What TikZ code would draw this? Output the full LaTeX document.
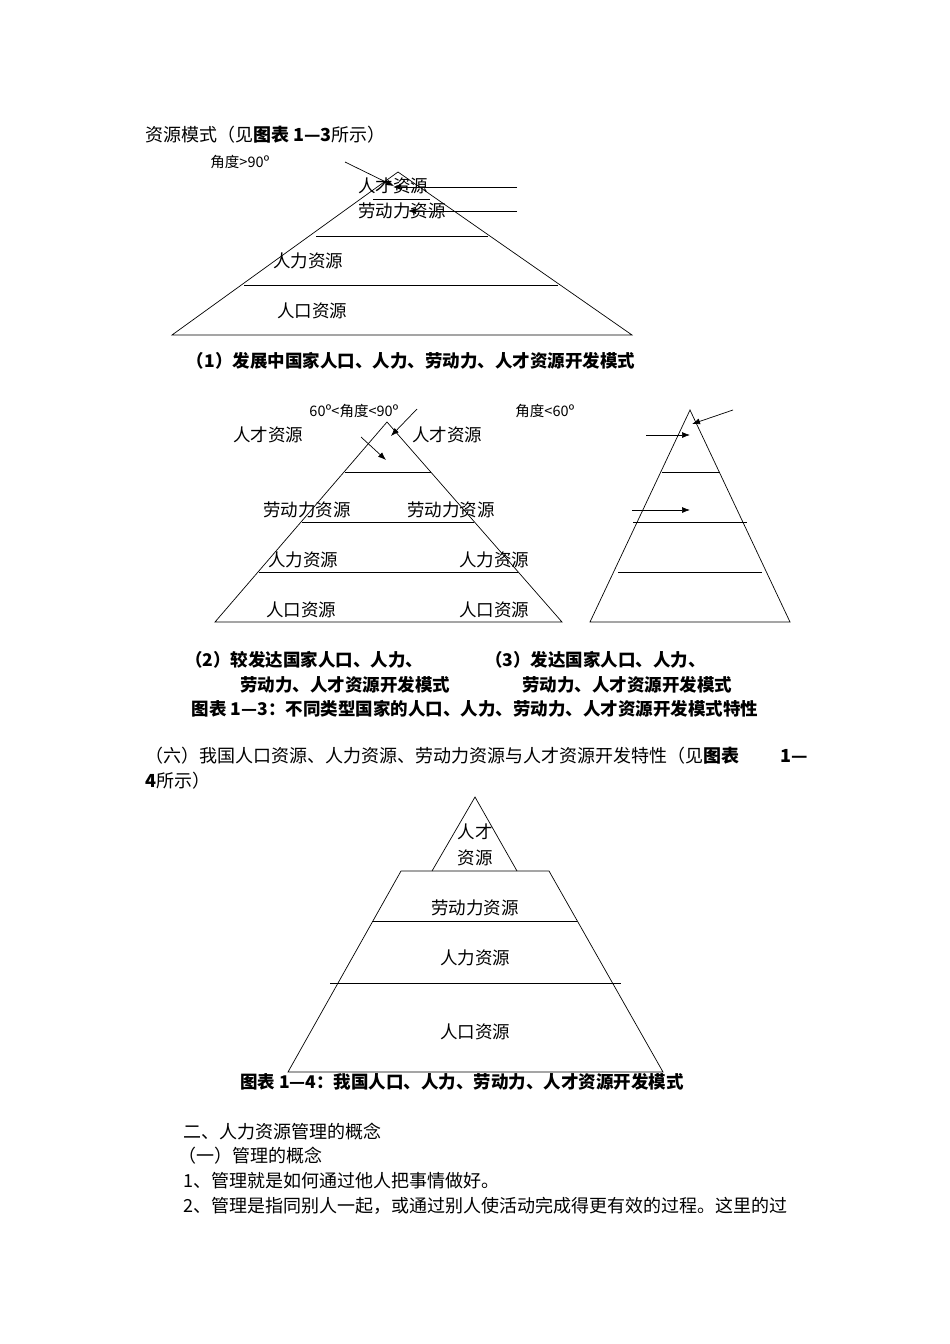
\documentclass[tikz,border=0pt]{standalone}
\usepackage{fontspec}
\setmainfont{Noto Sans CJK SC}
\usetikzlibrary{arrows.meta}
\begin{document}
\begin{tikzpicture}[x=1pt,y=-1pt,
  lbl/.style={inner sep=0pt,font=\fontsize{17.5}{19}\selectfont},
  sml/.style={inner sep=0pt,font=\fontsize{14.5}{16}\selectfont},
  captxt/.style={inner sep=0pt,font=\fontsize{17.5}{19}\selectfont\bfseries},
  body/.style={inner sep=0pt,anchor=west,font=\fontsize{18}{25}\selectfont},
  ln/.style={line width=0.7pt},
  arr/.style={line width=0.7pt}]
\useasboundingbox (0,0) rectangle (950,1344);
% heading
\node[body] (h1) at (145,135) {资源模式（见\textbf{图表 1—3}所示）};
% pyramid 1
\draw[ln] (172,335) -- (398,172) -- (632,335) -- cycle;
\draw[ln] (316,236) -- (488,236);
\draw[ln] (244,285) -- (558,285);
\draw[ln] (373,199) -- (430,199);
\node[sml] (a1) at (240,162) {角度>90º};
\node[lbl] (p1a) at (393,186) {人才资源};
\node[lbl] (p1b) at (402,211) {劳动力资源};
\node[lbl] (p1c) at (308,261) {人力资源};
\node[lbl] (p1d) at (312,311) {人口资源};
\coordinate (s1) at (345,162); \coordinate (t1) at (394,186);
\coordinate (s2) at (517,187); \coordinate (t2) at (393,187);
\coordinate (s3) at (517,211); \coordinate (t3) at (408,211);
\draw[arr,-{Latex[length=8pt,width=6pt]}] (s1) -- (t1);
\draw[arr,-{Latex[length=8pt,width=6pt]}] (s2) -- (t2);
\draw[arr,-{Latex[length=8pt,width=6pt]}] (s3) -- (t3);
\node[captxt] (c1) at (411,361) {（1）发展中国家人口、人力、劳动力、人才资源开发模式};
% pyramid 2
\draw[ln] (215,622) -- (387,422) -- (562,622) -- cycle;
\draw[ln] (345,472) -- (431,472);
\draw[ln] (302,522) -- (474,522);
\draw[ln] (259,572) -- (518,572);
\node[sml] (a2) at (354,411) {60º<角度<90º};
\node[sml] (a3) at (545,411) {角度<60º};
\node[lbl] at (268,435) {人才资源};
\node[lbl] at (447,435) {人才资源};
\node[lbl] at (307,510) {劳动力资源};
\node[lbl] at (451,510) {劳动力资源};
\node[lbl] at (303,560) {人力资源};
\node[lbl] at (494,560) {人力资源};
\node[lbl] at (301,610) {人口资源};
\node[lbl] at (494,610) {人口资源};
\coordinate (s4) at (417,409); \coordinate (t4) at (391,436);
\coordinate (s5) at (361,437); \coordinate (t5) at (386,460);
\draw[arr,-{Latex[length=8pt,width=6pt]}] (s4) -- (t4);
\draw[arr,-{Latex[length=8pt,width=6pt]}] (s5) -- (t5);
% pyramid 3
\draw[ln] (590,622) -- (690,410) -- (790,622) -- cycle;
\draw[ln] (662,472) -- (720,472);
\draw[ln] (633,522) -- (747,522);
\draw[ln] (618,572) -- (762,572);
\coordinate (s6) at (733,410); \coordinate (t6) at (692,424);
\coordinate (s7) at (646,435); \coordinate (t7) at (690,435);
\coordinate (s8) at (632,510); \coordinate (t8) at (690,510);
\draw[arr,-{Latex[length=8pt,width=6pt]}] (s6) -- (t6);
\draw[arr,-{Latex[length=8pt,width=6pt]}] (s7) -- (t7);
\draw[arr,-{Latex[length=8pt,width=6pt]}] (s8) -- (t8);
\node[captxt,anchor=west] at (185,660) {（2）较发达国家人口、人力、};
\node[captxt,anchor=west] at (240,685) {劳动力、人才资源开发模式};
\node[captxt,anchor=west] at (485,660) {（3）发达国家人口、人力、};
\node[captxt,anchor=west] at (522,685) {劳动力、人才资源开发模式};
\node[captxt] at (475,709) {图表 1—3：不同类型国家的人口、人力、劳动力、人才资源开发模式特性};
% paragraph
\node[body,anchor=north west,text width=663pt,align=justify] (par) at (145,747) {（六）我国人口资源、人力资源、劳动力资源与人才资源开发特性（见\textbf{图表 1—4}所示）};
% pyramid 4
\draw[ln] (432,871) -- (475,797) -- (517,871);
\draw[ln] (401,871) -- (549,871) -- (663,1072) -- (288,1072) -- cycle;
\draw[ln] (372,921) -- (577,921);
\draw[ln] (330,983) -- (621,983);
\node[lbl] at (475,832) {人才};
\node[lbl] at (475,858) {资源};
\node[lbl] at (475,908) {劳动力资源};
\node[lbl] at (475,958) {人力资源};
\node[lbl] at (475,1032) {人口资源};
\node[captxt] at (462,1082) {图表 1—4：我国人口、人力、劳动力、人才资源开发模式};
% text
\node[body] at (183,1132) {二、人力资源管理的概念};
\node[body] at (178,1156) {（一）管理的概念};
\node[body] at (183,1181) {1、管理就是如何通过他人把事情做好。};
\node[body] at (183,1206) {2、管理是指同别人一起，或通过别人使活动完成得更有效的过程。这里的过};
\end{tikzpicture}
\end{document}
